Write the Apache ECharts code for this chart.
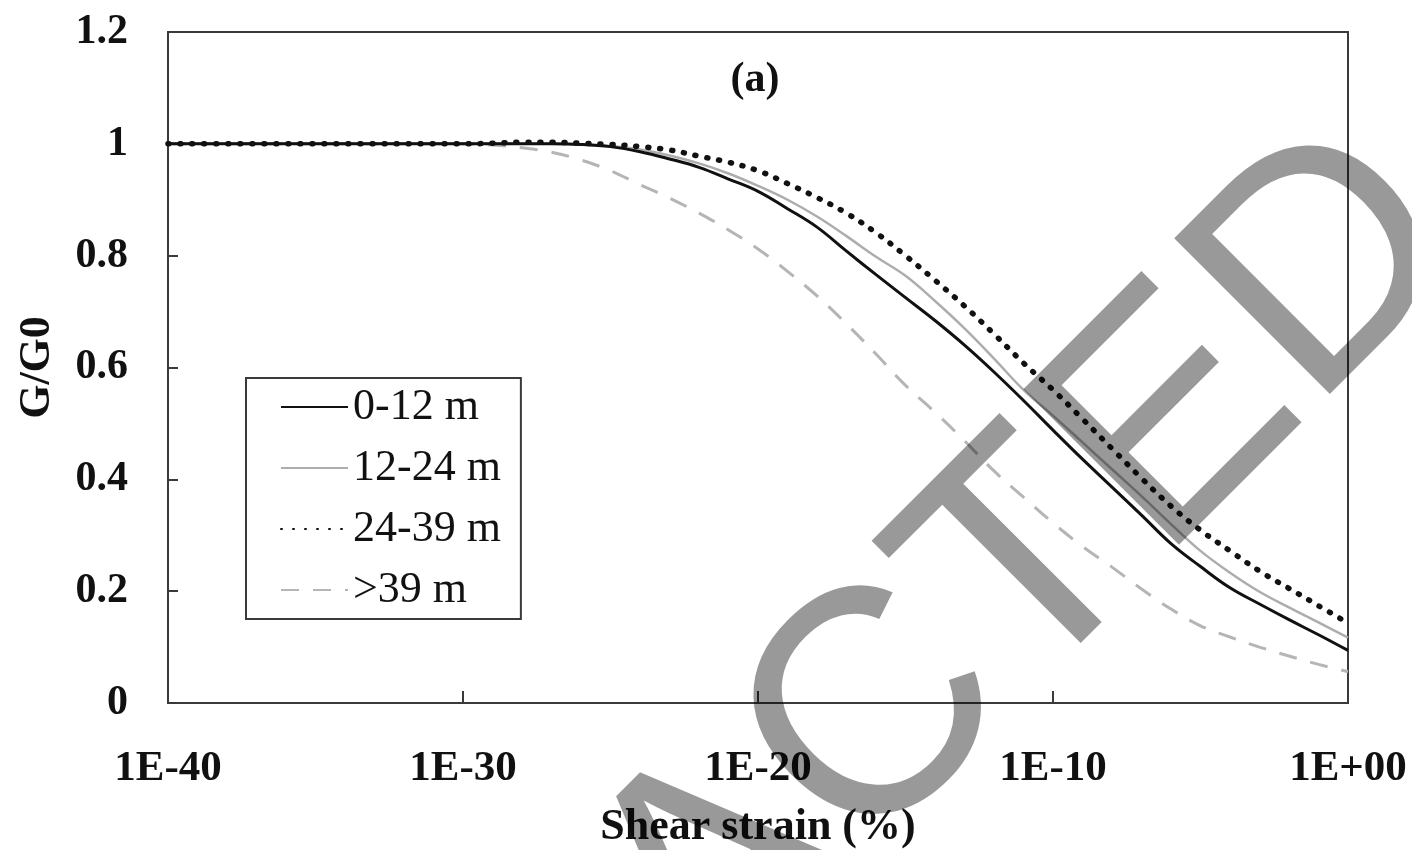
<!DOCTYPE html>
<html>
<head>
<meta charset="utf-8">
<script src="https://cdn.jsdelivr.net/npm/echarts@6/dist/echarts.min.js"></script>
<style>
html,body{margin:0;padding:0;background:#fff;}
#chart{width:1412px;height:850px;}
</style>
</head>
<body>
<div id="chart"></div>
<script>
// log10 of shear strain (%)
const logStrain = [-40,-30,-29,-28,-27,-26,-25,-24,-23,-22,-21,-20,-19,-18,-17,-16,-15,-14,-13,-12,-11,-10,-9,-8,-7,-6,-5,-4,-3,-2,-1,0];
const g0to12  = [1.0,1.0,1.0,1.0,1.0,0.999,0.995,0.986,0.973,0.958,0.937,0.915,0.884,0.851,0.808,0.766,0.725,0.684,0.64,0.592,0.541,0.488,0.436,0.386,0.336,0.285,0.244,0.206,0.177,0.149,0.122,0.094];
const g12to24 = [1.0,1.0,1.0,1.0,1.0,0.999,0.996,0.99,0.979,0.965,0.947,0.925,0.9,0.87,0.835,0.798,0.764,0.719,0.67,0.616,0.56,0.514,0.466,0.418,0.37,0.32,0.272,0.233,0.199,0.171,0.144,0.117];
const g24to39 = [1.0,1.0,1.001,1.003,1.003,1.001,0.999,0.995,0.989,0.978,0.967,0.952,0.929,0.904,0.876,0.841,0.8,0.756,0.71,0.66,0.608,0.56,0.508,0.455,0.402,0.352,0.309,0.272,0.236,0.205,0.174,0.143];
const gOver39 = [1.0,1.0,0.998,0.993,0.985,0.971,0.952,0.927,0.903,0.876,0.846,0.812,0.772,0.728,0.678,0.624,0.568,0.52,0.469,0.415,0.368,0.322,0.28,0.243,0.204,0.168,0.138,0.118,0.1,0.084,0.069,0.056];
const seriesNames = ['0-12 m','12-24 m','24-39 m','>39 m'];
const xTickLabels = ['1E-40','1E-30','1E-20','1E-10','1E+00'];

const pairs = arr => logStrain.map((x,i)=>[x, arr[i]]);
const serif = '"Liberation Serif", "Times New Roman", serif';

const chart = echarts.init(document.getElementById('chart'), null, {renderer:'canvas'});
chart.setOption({
  animation:false,
  backgroundColor:'#fff',
  grid:{left:168,right:64,top:32,bottom:147,containLabel:false,outerBoundsMode:'none',
        show:true,borderColor:'#3a3a3a',borderWidth:2,backgroundColor:'transparent'},
  xAxis:{
    type:'value',min:-40,max:0,interval:10,
    name:'Shear strain (%)',nameLocation:'middle',nameGap:103,
    nameTextStyle:{fontFamily:serif,fontWeight:'bold',fontSize:44,color:'#111'},
    axisLine:{show:true,onZero:false,lineStyle:{color:'#3a3a3a',width:2}},
    axisTick:{show:true,inside:true,length:12,lineStyle:{color:'#3a3a3a',width:2}},
    axisLabel:{margin:44,fontFamily:serif,fontWeight:'bold',fontSize:43,color:'#111',
      formatter:v=>xTickLabels[Math.round((v+40)/10)]},
    splitLine:{show:false}
  },
  yAxis:{
    type:'value',min:0,max:1.2,interval:0.2,
    name:'G/G0',nameLocation:'middle',nameGap:108,nameRotate:90,
    nameTextStyle:{fontFamily:serif,fontWeight:'bold',fontSize:44,color:'#111'},
    axisLine:{show:true,onZero:false,lineStyle:{color:'#3a3a3a',width:2}},
    axisTick:{show:true,inside:true,length:10,lineStyle:{color:'#3a3a3a',width:2}},
    axisLabel:{margin:40,fontFamily:serif,fontWeight:'bold',fontSize:42,color:'#111'},
    splitLine:{show:false}
  },
  legend:{
    show:true,orient:'vertical',left:246,top:378,
    padding:[4,20,4,34],itemGap:11,itemWidth:67,itemHeight:14,
    borderColor:'#3a3a3a',borderWidth:2,backgroundColor:'#fff',
    itemStyle:{opacity:0},
    textStyle:{fontFamily:serif,fontSize:44,lineHeight:50,color:'#111'},
    data:seriesNames
  },
  series:[
    {name:seriesNames[0],type:'line',data:pairs(g0to12),symbol:'none',smooth:0.4,z:4,
     lineStyle:{color:'#111',width:3},itemStyle:{color:'#111'}},
    {name:seriesNames[1],type:'line',data:pairs(g12to24),symbol:'none',smooth:0.4,z:3,
     lineStyle:{color:'#adadad',width:2.5},itemStyle:{color:'#adadad'}},
    {name:seriesNames[2],type:'line',data:pairs(g24to39),symbol:'none',smooth:0.4,z:5,
     lineStyle:{color:'#111',width:5.5,type:[1,11],cap:'round'},itemStyle:{color:'#111'}},
    {name:seriesNames[3],type:'line',data:pairs(gOver39),symbol:'none',smooth:0.4,z:2,
     lineStyle:{color:'#b5b5b5',width:3,type:[18,14]},itemStyle:{color:'#b5b5b5'}}
  ],
  graphic:[
    {type:'text',x:755,y:80,z:50,
     style:{text:'(a)',fontFamily:serif,fontWeight:'bold',fontSize:42,fill:'#111',
            textAlign:'center',textVerticalAlign:'middle'}},
    {type:'text',x:790,y:809,rotation:Math.PI/4,z:100,silent:true,
     style:{text:'REDACTED',fontFamily:'"Liberation Sans", Arial, sans-serif',fontSize:320,
            fill:'rgba(0,0,0,0.4)',textAlign:'center',textVerticalAlign:'middle'}}
  ]
});
</script>
</body>
</html>
